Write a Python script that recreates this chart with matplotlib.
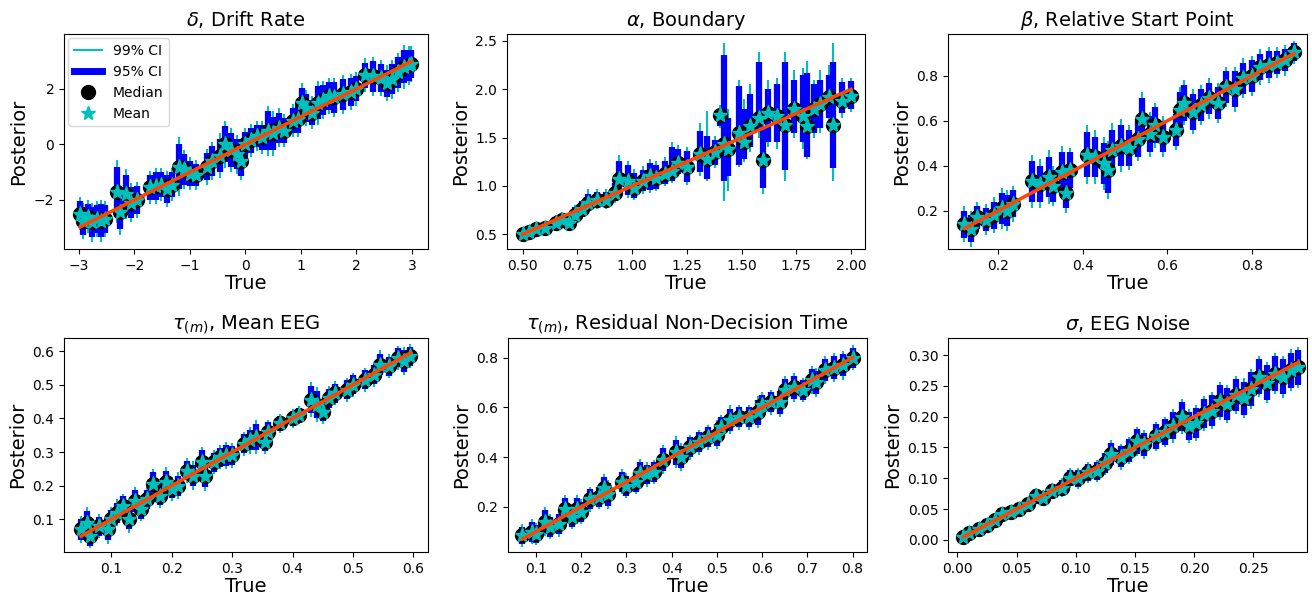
import matplotlib
matplotlib.use("Agg")
import numpy as np
import matplotlib.pyplot as plt
from matplotlib.lines import Line2D

# delta, drift rate
drift_true = [-2.98, -2.92, -2.84, -2.76, -2.68, -2.6, -2.54, -2.32, -2.26, -2.16, -2.06, -1.96,
              -1.72, -1.62, -1.52, -1.42, -1.32, -1.2, -1.1, -1.0, -0.9, -0.7, -0.6, -0.46,
              -0.36, -0.26, -0.16, -0.08, 0.0, 0.1, 0.2, 0.3, 0.4, 0.5, 0.6, 0.7, 0.85, 0.95,
              1.02, 1.1, 1.2, 1.3, 1.4, 1.5, 1.6, 1.75, 1.9, 2.0, 2.16, 2.3, 2.45, 2.55, 2.65,
              2.75, 2.85, 2.94, 2.99]
drift_med = [-2.5, -2.75, -2.6, -2.8, -2.7, -2.75, -2.7, -1.7, -2.45, -1.8, -2.1, -2.0,
             -1.55, -1.5, -1.45, -1.6, -1.45, -0.8, -0.9, -1.05, -1.1, -0.8, -0.6, -0.4,
             0.0, -0.2, -0.35, -0.6, 0.0, 0.15, 0.3, 0.25, 0.5, 0.4, 0.6, 0.5, 0.85, 0.9,
             1.5, 1.3, 1.15, 1.5, 1.6, 1.75, 1.7, 1.8, 1.9, 2.0, 2.5, 2.45, 2.4, 2.2, 2.35,
             2.6, 2.8, 2.85, 2.9]
drift_w95 = [0.45, 0.5, 0.45, 0.55, 0.5, 0.6, 0.5, 0.9, 0.6, 0.7, 0.55, 0.5,
             0.45, 0.5, 0.45, 0.5, 0.45, 0.8, 0.55, 0.45, 0.4, 0.5, 0.55, 0.6,
             0.65, 0.6, 0.55, 0.55, 0.45, 0.45, 0.4, 0.45, 0.7, 0.6, 0.55, 0.45, 0.45, 0.5,
             0.55, 0.5, 0.45, 0.6, 0.55, 0.5, 0.55, 0.55, 0.5, 0.45, 0.45, 0.55, 0.5, 0.5, 0.55,
             0.55, 0.6, 0.55, 0.5]
drift_w99 = [0.6, 0.65, 0.6, 0.7, 0.65, 0.75, 0.65, 1.15, 0.8, 0.9, 0.7, 0.65,
             0.6, 0.65, 0.6, 0.65, 0.6, 1.05, 0.7, 0.6, 0.55, 0.65, 0.7, 0.8,
             0.85, 0.8, 0.7, 0.7, 0.6, 0.6, 0.55, 0.6, 0.9, 0.8, 0.7, 0.6, 0.6, 0.65,
             0.7, 0.65, 0.6, 0.8, 0.7, 0.65, 0.7, 0.7, 0.65, 0.6, 0.6, 0.7, 0.65, 0.65, 0.7,
             0.7, 0.8, 0.7, 0.65]

# alpha, boundary (skewed intervals, so lower/upper ends are kept)
bound_true = [0.5, 0.53, 0.56, 0.6, 0.65, 0.68, 0.71, 0.74, 0.77, 0.8, 0.84, 0.88, 0.92,
              0.94, 0.98, 1.01, 1.05, 1.08, 1.11, 1.15, 1.18, 1.21, 1.25, 1.31, 1.34, 1.38,
              1.4, 1.42, 1.44, 1.49, 1.51, 1.54, 1.58, 1.6, 1.62, 1.66, 1.7, 1.74, 1.78,
              1.8, 1.83, 1.86, 1.9, 1.92, 1.96, 2.0]
bound_med = [0.5, 0.52, 0.55, 0.57, 0.62, 0.65, 0.62, 0.7, 0.76, 0.82, 0.86, 0.85, 0.93,
             1.07, 1.05, 0.98, 1.05, 1.1, 1.08, 1.12, 1.15, 1.24, 1.2, 1.33, 1.28, 1.35,
             1.73, 1.43, 1.38, 1.55, 1.45, 1.62, 1.7, 1.27, 1.75, 1.72, 1.63, 1.8, 1.72,
             1.62, 1.8, 1.85, 1.92, 1.63, 1.88, 1.93]
bound_lo95 = [0.47, 0.49, 0.51, 0.53, 0.58, 0.6, 0.57, 0.64, 0.68, 0.76, 0.78, 0.78, 0.84,
              0.94, 0.91, 0.88, 0.95, 0.96, 0.97, 1.02, 1.05, 1.12, 1.04, 1.14, 1.07, 1.22,
              1.62, 1.05, 1.1, 1.22, 1.28, 1.4, 1.58, 0.98, 1.45, 1.45, 1.17, 1.55, 1.45,
              1.3, 1.55, 1.6, 1.7, 1.19, 1.75, 1.8]
bound_hi95 = [0.53, 0.56, 0.59, 0.62, 0.68, 0.71, 0.69, 0.78, 0.84, 0.92, 0.94, 0.94, 1.03,
              1.26, 1.22, 1.13, 1.17, 1.24, 1.22, 1.26, 1.4, 1.38, 1.36, 1.57, 1.52, 1.48,
              1.8, 2.35, 1.7, 2.03, 1.8, 1.95, 2.28, 1.62, 2.0, 2.05, 2.28, 2.1, 2.15,
              2.17, 2.05, 2.1, 2.15, 2.28, 2.08, 2.09]
bound_lo99 = [0.46, 0.48, 0.5, 0.52, 0.57, 0.59, 0.56, 0.62, 0.66, 0.74, 0.76, 0.76, 0.82,
              0.92, 0.88, 0.86, 0.92, 0.93, 0.95, 1.0, 1.03, 1.1, 1.01, 1.1, 1.05, 1.19,
              1.6, 0.84, 0.95, 1.2, 1.25, 1.35, 1.5, 0.92, 1.4, 1.38, 1.05, 1.5, 1.38,
              1.28, 1.5, 1.55, 1.65, 1.05, 1.7, 1.77]
bound_hi99 = [0.54, 0.57, 0.6, 0.63, 0.7, 0.73, 0.71, 0.8, 0.86, 0.97, 0.97, 0.97, 1.06,
              1.32, 1.26, 1.18, 1.21, 1.28, 1.26, 1.3, 1.45, 1.42, 1.4, 1.65, 1.78, 1.52,
              1.84, 2.48, 1.8, 2.1, 1.9, 2.05, 2.39, 1.7, 2.1, 2.12, 2.39, 2.2, 2.22,
              2.29, 2.1, 2.2, 2.25, 2.48, 2.12, 2.12]

# beta, relative start point
start_true = [0.12, 0.135, 0.15, 0.17, 0.19, 0.21, 0.22, 0.235, 0.28, 0.3, 0.32, 0.33,
              0.35, 0.36, 0.37, 0.41, 0.43, 0.45, 0.46, 0.47, 0.49, 0.51, 0.53, 0.54,
              0.56, 0.57, 0.59, 0.62, 0.63, 0.64, 0.66, 0.68, 0.7, 0.72, 0.74, 0.76,
              0.78, 0.8, 0.82, 0.84, 0.86, 0.88, 0.9]
start_med = [0.14, 0.12, 0.17, 0.16, 0.18, 0.21, 0.2, 0.23, 0.33, 0.32, 0.35, 0.31,
             0.37, 0.28, 0.38, 0.45, 0.44, 0.41, 0.38, 0.47, 0.49, 0.48, 0.52, 0.61,
             0.54, 0.58, 0.53, 0.56, 0.65, 0.68, 0.64, 0.67, 0.7, 0.68, 0.75, 0.74,
             0.79, 0.8, 0.84, 0.85, 0.86, 0.87, 0.905]
start_w95 = [0.06, 0.06, 0.05, 0.05, 0.06, 0.07, 0.07, 0.06, 0.09, 0.08, 0.09, 0.07,
             0.09, 0.07, 0.08, 0.1, 0.09, 0.09, 0.1, 0.09, 0.09, 0.08, 0.08, 0.09,
             0.08, 0.08, 0.07, 0.07, 0.08, 0.08, 0.08, 0.07, 0.07, 0.07, 0.07, 0.08,
             0.07, 0.07, 0.06, 0.06, 0.05, 0.05, 0.04]
start_w99 = [0.08, 0.08, 0.07, 0.07, 0.08, 0.09, 0.09, 0.08, 0.12, 0.11, 0.12, 0.09,
             0.12, 0.09, 0.1, 0.13, 0.12, 0.12, 0.13, 0.12, 0.12, 0.1, 0.1, 0.12,
             0.1, 0.1, 0.09, 0.09, 0.1, 0.1, 0.1, 0.09, 0.09, 0.09, 0.09, 0.1,
             0.09, 0.09, 0.08, 0.08, 0.07, 0.07, 0.05]

# tau, mean EEG
eeg_true = [0.05, 0.06, 0.065, 0.08, 0.095, 0.1, 0.11, 0.12, 0.13, 0.14, 0.15, 0.16,
            0.17, 0.18, 0.19, 0.2, 0.21, 0.225, 0.235, 0.25, 0.255, 0.27, 0.28, 0.29,
            0.3, 0.32, 0.33, 0.34, 0.355, 0.36, 0.38, 0.4, 0.41, 0.43, 0.44, 0.45,
            0.46, 0.47, 0.49, 0.5, 0.52, 0.535, 0.545, 0.56, 0.575, 0.585, 0.595]
eeg_med = [0.07, 0.09, 0.05, 0.08, 0.07, 0.1, 0.12, 0.14, 0.1, 0.155, 0.13, 0.16,
           0.205, 0.17, 0.21, 0.19, 0.2, 0.245, 0.23, 0.27, 0.23, 0.27, 0.285, 0.29,
           0.29, 0.325, 0.335, 0.345, 0.33, 0.36, 0.385, 0.4, 0.41, 0.455, 0.44, 0.42,
           0.46, 0.475, 0.485, 0.5, 0.515, 0.53, 0.56, 0.555, 0.58, 0.57, 0.585]
eeg_w95 = [0.03, 0.035, 0.028, 0.028, 0.032, 0.028, 0.03, 0.028, 0.03, 0.032, 0.028, 0.028,
           0.035, 0.028, 0.035, 0.028, 0.03, 0.028, 0.032, 0.035, 0.035, 0.028, 0.028, 0.03,
           0.028, 0.028, 0.03, 0.038, 0.028, 0.028, 0.022, 0.022, 0.022, 0.04, 0.04, 0.028,
           0.028, 0.028, 0.028, 0.028, 0.028, 0.028, 0.032, 0.028, 0.028, 0.032, 0.028]
eeg_w99 = [0.04, 0.048, 0.036, 0.036, 0.042, 0.036, 0.04, 0.036, 0.04, 0.042, 0.036, 0.036,
           0.045, 0.036, 0.045, 0.036, 0.04, 0.036, 0.042, 0.045, 0.045, 0.036, 0.036, 0.04,
           0.036, 0.036, 0.04, 0.05, 0.036, 0.036, 0.028, 0.028, 0.028, 0.052, 0.052, 0.036,
           0.036, 0.036, 0.036, 0.036, 0.036, 0.036, 0.042, 0.036, 0.036, 0.042, 0.036]

# tau, residual non-decision time
ndt_true = [0.07, 0.09, 0.1, 0.12, 0.13, 0.15, 0.165, 0.18, 0.19, 0.2, 0.22, 0.24,
            0.25, 0.26, 0.29, 0.3, 0.32, 0.33, 0.345, 0.36, 0.38, 0.41, 0.42, 0.44,
            0.46, 0.48, 0.5, 0.51, 0.53, 0.55, 0.57, 0.59, 0.6, 0.62, 0.64, 0.65,
            0.67, 0.69, 0.71, 0.72, 0.74, 0.76, 0.78, 0.8]
ndt_med = [0.085, 0.1, 0.09, 0.14, 0.12, 0.13, 0.19, 0.16, 0.19, 0.18, 0.23, 0.24,
           0.275, 0.25, 0.3, 0.285, 0.3, 0.335, 0.33, 0.34, 0.39, 0.42, 0.4, 0.44,
           0.46, 0.48, 0.49, 0.52, 0.55, 0.56, 0.56, 0.58, 0.61, 0.62, 0.62, 0.67,
           0.68, 0.67, 0.71, 0.7, 0.75, 0.76, 0.77, 0.8]
ndt_w95 = [0.035, 0.04, 0.035, 0.045, 0.04, 0.04, 0.045, 0.04, 0.045, 0.04, 0.04, 0.04,
           0.045, 0.045, 0.04, 0.04, 0.04, 0.045, 0.04, 0.04, 0.045, 0.05, 0.045, 0.04,
           0.04, 0.04, 0.045, 0.04, 0.045, 0.04, 0.04, 0.05, 0.04, 0.04, 0.045, 0.045,
           0.045, 0.04, 0.045, 0.045, 0.045, 0.045, 0.045, 0.04]
ndt_w99 = [0.045, 0.05, 0.045, 0.058, 0.05, 0.05, 0.058, 0.05, 0.058, 0.05, 0.05, 0.05,
           0.058, 0.058, 0.05, 0.05, 0.05, 0.058, 0.05, 0.05, 0.058, 0.064, 0.058, 0.05,
           0.05, 0.05, 0.058, 0.05, 0.058, 0.05, 0.05, 0.064, 0.05, 0.05, 0.058, 0.058,
           0.058, 0.05, 0.058, 0.058, 0.058, 0.058, 0.058, 0.05]

# sigma, EEG noise
noise_true = [0.005, 0.01, 0.018, 0.025, 0.032, 0.038, 0.045, 0.052, 0.06, 0.066, 0.072,
              0.08, 0.088, 0.095, 0.102, 0.11, 0.118, 0.125, 0.13, 0.138, 0.145, 0.152,
              0.158, 0.168, 0.175, 0.182, 0.19, 0.196, 0.202, 0.208, 0.215, 0.222, 0.228,
              0.235, 0.242, 0.248, 0.255, 0.262, 0.268, 0.275, 0.282, 0.288]
noise_med = [0.005, 0.012, 0.018, 0.024, 0.032, 0.042, 0.045, 0.05, 0.058, 0.072, 0.068,
             0.08, 0.085, 0.1, 0.1, 0.11, 0.112, 0.125, 0.14, 0.135, 0.145, 0.16,
             0.155, 0.168, 0.175, 0.185, 0.2, 0.185, 0.19, 0.205, 0.21, 0.225, 0.22,
             0.235, 0.23, 0.245, 0.265, 0.255, 0.27, 0.265, 0.275, 0.28]
noise_w95 = [0.005, 0.005, 0.005, 0.006, 0.006, 0.007, 0.007, 0.008, 0.009, 0.01, 0.011,
             0.011, 0.012, 0.013, 0.014, 0.014, 0.015, 0.016, 0.018, 0.017, 0.018, 0.02,
             0.019, 0.02, 0.021, 0.022, 0.023, 0.023, 0.024, 0.024, 0.025, 0.026, 0.026,
             0.026, 0.027, 0.027, 0.028, 0.028, 0.028, 0.029, 0.029, 0.028]
noise_w99 = [0.006, 0.006, 0.006, 0.007, 0.007, 0.009, 0.009, 0.01, 0.011, 0.012, 0.013,
             0.013, 0.015, 0.016, 0.017, 0.017, 0.018, 0.019, 0.022, 0.021, 0.022, 0.024,
             0.023, 0.024, 0.025, 0.027, 0.028, 0.028, 0.029, 0.029, 0.03, 0.031, 0.031,
             0.031, 0.032, 0.032, 0.033, 0.033, 0.033, 0.034, 0.034, 0.033]

titles = [r'$\delta$, Drift Rate', r'$\alpha$, Boundary', r'$\beta$, Relative Start Point',
          r'$\tau_{(m)}$, Mean EEG', r'$\tau_{(m)}$, Residual Non-Decision Time',
          r'$\sigma$, EEG Noise']


def sym(med, w95, w99):
    med = np.array(med)
    return (med - np.array(w95), med + np.array(w95),
            med - np.array(w99), med + np.array(w99))


panels = [
    (drift_true, drift_med, *sym(drift_med, drift_w95, drift_w99)),
    (bound_true, bound_med, bound_lo95, bound_hi95, bound_lo99, bound_hi99),
    (start_true, start_med, *sym(start_med, start_w95, start_w99)),
    (eeg_true, eeg_med, *sym(eeg_med, eeg_w95, eeg_w99)),
    (ndt_true, ndt_med, *sym(ndt_med, ndt_w95, ndt_w99)),
    (noise_true, noise_med, *sym(noise_med, noise_w95, noise_w99)),
]

xlims = [(-3.27, 3.29), (0.428, 2.064), (0.081, 0.931),
         (0.022, 0.624), (0.038, 0.832), (-0.008, 0.2954)]
ylims = [(-3.77, 3.98), (0.348, 2.572), (0.029, 0.987),
         (0.003, 0.639), (0.018, 0.879), (-0.0195, 0.3276)]
yticks = [[-2, 0, 2], None, None, None, None, None]

# axes boxes in pixels: left, top, right, bottom
W, H = 1312, 601
boxes = [(64, 34, 428, 249), (507, 34, 865, 249), (948, 34, 1307, 249),
         (64, 338, 428, 552), (508, 338, 867, 552), (948, 338, 1307, 552)]

fig = plt.figure(figsize=(W / 100, H / 100), dpi=100)

for i, (true, med, lo95, hi95, lo99, hi99) in enumerate(panels):
    l, t, r, b = boxes[i]
    ax = fig.add_axes([l / W, 1 - b / H, (r - l) / W, (b - t) / H])
    true = np.array(true)

    ax.vlines(true, lo99, hi99, color='c', lw=1.5, zorder=1)
    ax.vlines(true, lo95, hi95, color='b', lw=4.5, zorder=2)
    ax.plot(true, med, 'o', color='k', ms=10, zorder=3)
    # mean sits on the median at this scale
    ax.plot(true, med, '*', color='c', ms=11, zorder=4)
    ax.plot([true.min(), true.max()], [true.min(), true.max()],
            color='orangered', lw=2.5, zorder=5)

    ax.set_xlim(*xlims[i])
    ax.set_ylim(*ylims[i])
    if yticks[i] is not None:
        ax.set_yticks(yticks[i])
    ax.set_title(titles[i], fontsize=14)
    ax.set_xlabel('True', fontsize=14, labelpad=1)
    ax.set_ylabel('Posterior', fontsize=14)
    ax.tick_params(labelsize=10)

    if i == 0:
        handles = [
            Line2D([], [], color='c', lw=1.5),
            Line2D([], [], color='b', lw=5),
            Line2D([], [], marker='o', color='k', ls='none', ms=10),
            Line2D([], [], marker='*', color='c', ls='none', ms=10),
        ]
        ax.legend(handles, ['99% CI', '95% CI', 'Median', 'Mean'],
                  loc='upper left', fontsize=10, borderaxespad=0.3)

fig.savefig('out.png', dpi=100)
